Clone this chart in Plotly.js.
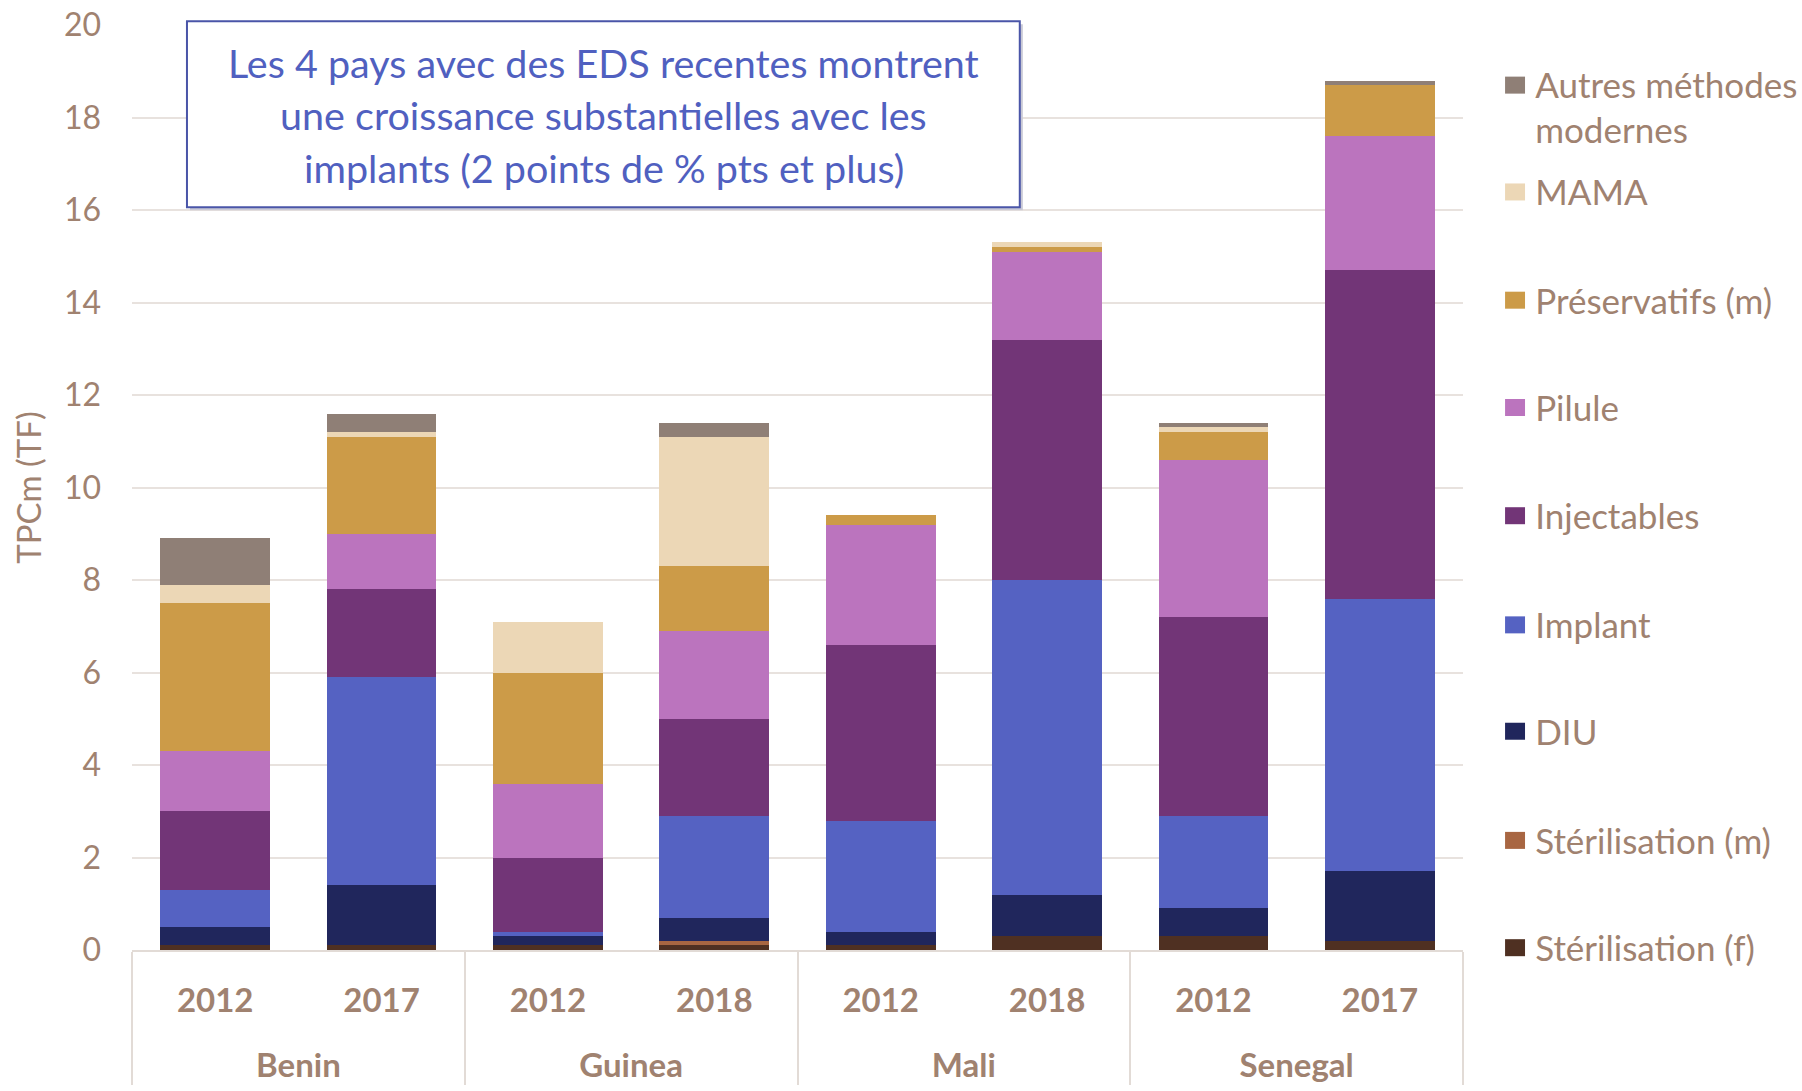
<!DOCTYPE html>
<html>
<head>
<meta charset="utf-8">
<script src="https://cdn.plot.ly/plotly-3.0.1.min.js"></script>
<style>html,body{margin:0;padding:0;background:#fff;}#chart{width:1802px;height:1091px;}</style>
</head>
<body>
<div id="chart"></div>
<script>
// Categories
const countries = ['Benin','Benin','Guinea','Guinea','Mali','Mali','Senegal','Senegal'];
const years = ['2012','2017','2012','2018','2012','2018','2012','2017'];

// Series values (TPCm, %) by method, bottom to top of each stack
const sterilF      = [0.1, 0.1, 0.1, 0.1, 0.1, 0.3, 0.3, 0.2];
const sterilM      = [0.0, 0.0, 0.0, 0.1, 0.0, 0.0, 0.0, 0.0];
const diu          = [0.4, 1.3, 0.2, 0.5, 0.3, 0.9, 0.6, 1.5];
const implant      = [0.8, 4.5, 0.1, 2.2, 2.4, 6.8, 2.0, 5.9];
const injectables  = [1.7, 1.9, 1.6, 2.1, 3.8, 5.2, 4.3, 7.1];
const pilule       = [1.3, 1.2, 1.6, 1.9, 2.6, 1.9, 3.4, 2.9];
const preservatifs = [3.2, 2.1, 2.4, 1.4, 0.2, 0.1, 0.6, 1.1];
const mama         = [0.4, 0.1, 1.1, 2.8, 0.0, 0.1, 0.1, 0.0];
const autres       = [1.0, 0.4, 0.0, 0.3, 0.0, 0.0, 0.1, 0.1];

const seriesNames = ['Stérilisation (f)','Stérilisation (m)','DIU','Implant','Injectables','Pilule','Préservatifs (m)','MAMA','Autres méthodes<br>modernes'];
const seriesData = [sterilF, sterilM, diu, implant, injectables, pilule, preservatifs, mama, autres];
const seriesColors = ['#4f3022','#a86642','#20265c','#5562c2','#723577','#bb74be','#cc9b48','#ecd7b6','#8f7f76'];

const annotationLines = [
  'Les 4 pays avec des EDS recentes montrent',
  'une croissance substantielles avec les',
  'implants (2 points de % pts et plus)'
];

const textColor = '#a08270';
const fontFam = 'Lato, "Open Sans", sans-serif';

// year labels get a small blank second line so the country row sits lower
const yearLabels = years.map(y => y + '<br><span style="font-size:32.5px">\u00a0</span>');

const legendKeys = ['legend9','legend8','legend7','legend6','legend5','legend4','legend3','legend2','legend'];
// legend vertical positions (paper), bottom item first; last one is the top anchor of the two-line item
const legendY = [0.0025, 0.1185, 0.2365, 0.3515, 0.4695, 0.5865, 0.7025, 0.8195, 0.9677];
// legend icon centres (paper)
const iconY = [0.0025, 0.1185, 0.2365, 0.3515, 0.4695, 0.5865, 0.7025, 0.8195, 0.935];

const traces = seriesData.map((vals, i) => ({
  type: 'bar',
  name: seriesNames[i],
  x: [countries, yearLabels],
  y: vals,
  marker: {color: seriesColors[i], line: {width: 0}},
  legend: legendKeys[i],
  hoverinfo: 'skip'
}));

const shapes = [
  {type: 'rect', xref: 'paper', yref: 'paper', x0: 0.0436, x1: 0.6693, y0: 0.7998, y1: 1.0008,
   fillcolor: '#c9c9d6', line: {width: 0}, layer: 'above'},
  {type: 'rect', xref: 'paper', yref: 'paper', x0: 0.0413, x1: 0.667, y0: 0.803, y1: 1.004,
   fillcolor: '#ffffff', line: {color: '#4a55a8', width: 2}, layer: 'above'}
];
seriesColors.forEach((c, i) => {
  shapes.push({type: 'rect', xref: 'paper', yref: 'paper', ysizemode: 'pixel', yanchor: iconY[i],
    x0: 1.0316, x1: 1.0466, y0: -8.5, y1: 8.5, fillcolor: c, line: {width: 0}, layer: 'above'});
});

const layout = {
  width: 1802,
  height: 1091,
  margin: {l: 132, r: 339, t: 25, b: 141, autoexpand: false},
  paper_bgcolor: '#ffffff',
  plot_bgcolor: '#ffffff',
  barmode: 'stack',
  bargap: 0.34,
  showlegend: true,
  font: {family: fontFam, color: textColor},
  xaxis: {
    type: 'multicategory',
    showgrid: false,
    showline: true,
    linecolor: '#e2dbd6',
    linewidth: 2,
    ticks: '',
    ticklabelstandoff: 20,
    showdividers: true,
    dividercolor: '#e2dbd6',
    dividerwidth: 2,
    tickfont: {family: fontFam, size: 33, color: textColor, weight: 'bold'},
    fixedrange: true
  },
  yaxis: {
    range: [0, 20],
    dtick: 2,
    showgrid: true,
    gridcolor: '#e8e2de',
    gridwidth: 2,
    zeroline: false,
    showline: false,
    ticks: '',
    ticklabelstandoff: 30,
    tickfont: {family: fontFam, size: 32, color: textColor},
    title: {text: 'TPCm (TF)', font: {family: fontFam, size: 33, color: textColor}, standoff: 12},
    fixedrange: true
  },
  shapes: shapes,
  annotations: annotationLines.map((t, i) => ({
    text: t, xref: 'paper', yref: 'paper', x: 0.3546, y: [0.959, 0.903, 0.846][i],
    xanchor: 'center', yanchor: 'middle', showarrow: false,
    font: {family: fontFam, size: 39.5, color: '#5060c0'}
  }))
};

legendKeys.forEach((k, i) => {
  const isTop = (k === 'legend');
  layout[k] = {
    x: 1.0242, xanchor: 'left',
    y: legendY[i], yanchor: isTop ? 'top' : 'middle',
    valign: 'top',
    bgcolor: 'rgba(0,0,0,0)',
    font: {family: fontFam, size: 35, color: textColor},
    itemclick: false, itemdoubleclick: false
  };
});

Plotly.newPlot('chart', traces, layout, {displayModeBar: false, staticPlot: true});
</script>
</body>
</html>
